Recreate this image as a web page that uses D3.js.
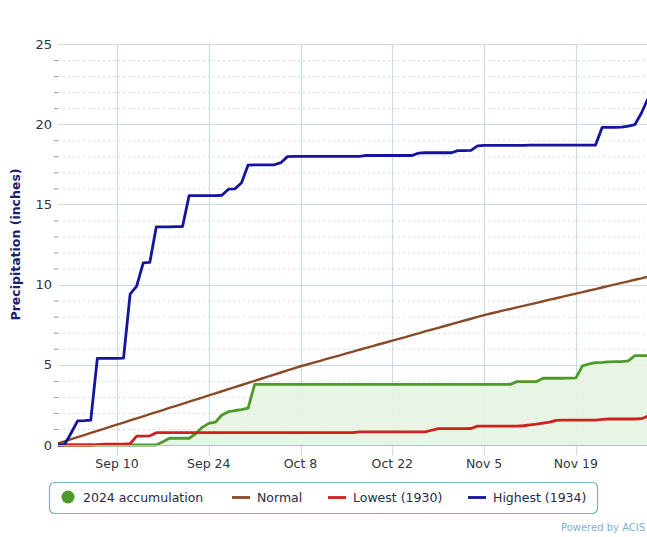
<!DOCTYPE html>
<html>
<head>
<meta charset="utf-8">
<script src="https://cdn.jsdelivr.net/npm/d3@7"></script>
<style>
  html, body { margin: 0; padding: 0; background: #fff; }
  svg { display: block; font-family: "DejaVu Sans", sans-serif; }
</style>
</head>
<body>
<div id="chart"></div>
<script>
// daily cumulative precipitation, Sep 1 .. Nov 30
const startDate = new Date(2024, 8, 1);
const tickDates = [new Date(2024, 8, 10), new Date(2024, 8, 24), new Date(2024, 9, 8),
  new Date(2024, 9, 22), new Date(2024, 10, 5), new Date(2024, 10, 19)];
const tickLabels = ['Sep 10', 'Sep 24', 'Oct 8', 'Oct 22', 'Nov 5', 'Nov 19'];
const yTicks = [0, 5, 10, 15, 20, 25];

const accum2024 = [
  0, 0, 0, 0, 0, 0, 0, 0, 0, 0,
  0, 0, 0, 0, 0, 0, 0.20, 0.42, 0.42, 0.42,
  0.42, 0.70, 1.10, 1.35, 1.42, 1.87, 2.08, 2.15, 2.20, 2.30,
  3.78, 3.78, 3.78, 3.78, 3.78, 3.78, 3.78, 3.78, 3.78, 3.78,
  3.78, 3.78, 3.78, 3.78, 3.78, 3.78, 3.78, 3.78, 3.78, 3.78,
  3.78, 3.78, 3.78, 3.78, 3.78, 3.78, 3.78, 3.78, 3.78, 3.78,
  3.78, 3.78, 3.78, 3.78, 3.78, 3.78, 3.78, 3.78, 3.78, 3.78,
  3.95, 3.95, 3.95, 3.96, 4.16, 4.16, 4.16, 4.16, 4.17, 4.18,
  4.93, 5.05, 5.13, 5.15, 5.18, 5.20, 5.20, 5.25, 5.57, 5.57,
  5.57
];
const normal = [
  0.10, 0.23, 0.36, 0.49, 0.62, 0.75, 0.88, 1.01, 1.14, 1.27,
  1.40, 1.53, 1.66, 1.79, 1.92, 2.05, 2.18, 2.31, 2.44, 2.57,
  2.70, 2.83, 2.96, 3.09, 3.22, 3.35, 3.48, 3.61, 3.74, 3.87,
  4.00, 4.13, 4.26, 4.39, 4.52, 4.65, 4.78, 4.91, 5.02, 5.14,
  5.25, 5.37, 5.48, 5.59, 5.71, 5.82, 5.94, 6.05, 6.16, 6.28,
  6.39, 6.51, 6.62, 6.73, 6.85, 6.96, 7.08, 7.19, 7.30, 7.42,
  7.53, 7.65, 7.76, 7.87, 7.99, 8.10, 8.20, 8.29, 8.39, 8.48,
  8.58, 8.67, 8.77, 8.86, 8.96, 9.06, 9.15, 9.25, 9.34, 9.44,
  9.53, 9.63, 9.72, 9.82, 9.92, 10.01, 10.11, 10.20, 10.30, 10.39,
  10.49
];
const lowest1930 = [
  0, 0, 0, 0, 0, 0, 0.02, 0.05, 0.05, 0.05,
  0.05, 0.08, 0.55, 0.55, 0.57, 0.77, 0.77, 0.77, 0.77, 0.77,
  0.77, 0.77, 0.77, 0.77, 0.77, 0.77, 0.77, 0.77, 0.77, 0.77,
  0.77, 0.77, 0.77, 0.77, 0.77, 0.77, 0.77, 0.77, 0.77, 0.77,
  0.77, 0.77, 0.77, 0.77, 0.77, 0.77, 0.82, 0.82, 0.82, 0.82,
  0.82, 0.82, 0.82, 0.82, 0.82, 0.82, 0.82, 0.92, 1.02, 1.02,
  1.02, 1.02, 1.02, 1.03, 1.18, 1.18, 1.18, 1.18, 1.18, 1.18,
  1.18, 1.20, 1.25, 1.30, 1.37, 1.43, 1.54, 1.55, 1.55, 1.55,
  1.55, 1.55, 1.55, 1.60, 1.62, 1.62, 1.62, 1.62, 1.62, 1.64,
  1.80
];
const highest1934 = [
  0, 0.02, 0.75, 1.50, 1.52, 1.55, 5.40, 5.40, 5.40, 5.40,
  5.42, 9.40, 9.90, 11.35, 11.38, 13.60, 13.60, 13.60, 13.62, 13.62,
  15.55, 15.55, 15.55, 15.55, 15.55, 15.57, 15.95, 15.97, 16.35, 17.45,
  17.47, 17.47, 17.47, 17.47, 17.60, 17.98, 18.00, 18.00, 18.00, 18.00,
  18.00, 18.00, 18.00, 18.00, 18.00, 18.00, 18.00, 18.05, 18.05, 18.05,
  18.05, 18.05, 18.05, 18.05, 18.05, 18.20, 18.22, 18.22, 18.22, 18.22,
  18.22, 18.35, 18.35, 18.37, 18.65, 18.68, 18.68, 18.68, 18.68, 18.68,
  18.68, 18.68, 18.69, 18.69, 18.69, 18.69, 18.70, 18.70, 18.70, 18.70,
  18.70, 18.70, 18.70, 19.80, 19.80, 19.80, 19.82, 19.88, 19.97, 20.70,
  21.60
];

const W = 647, H = 537;
const plot = { left: 58, right: 648, top: 44, bottom: 445 };

const svg = d3.select('#chart').append('svg')
  .attr('width', W).attr('height', H);

const x = d3.scaleTime()
  .domain([startDate, d3.timeDay.offset(startDate, accum2024.length - 1)])
  .range([plot.left, plot.right]);
const y = d3.scaleLinear().domain([0, 25]).range([plot.bottom, plot.top]);

const dayOf = i => d3.timeDay.offset(startDate, i);

// minor dotted grid
const minor = d3.range(1, 25).filter(v => v % 5 !== 0);
svg.append('g').selectAll('line').data(minor).join('line')
  .attr('x1', plot.left).attr('x2', W)
  .attr('y1', d => y(d) + 0.5).attr('y2', d => y(d) + 0.5)
  .attr('stroke', '#d0dde4').attr('stroke-dasharray', '2,3');
svg.append('g').selectAll('line').data(minor).join('line')
  .attr('x1', plot.left - 4).attr('x2', plot.left)
  .attr('y1', d => y(d) + 0.5).attr('y2', d => y(d) + 0.5)
  .attr('stroke', '#999');

// major grid
svg.append('g').selectAll('line').data(yTicks.slice(1)).join('line')
  .attr('x1', plot.left).attr('x2', W)
  .attr('y1', d => Math.round(y(d)) + 0.5).attr('y2', d => Math.round(y(d)) + 0.5)
  .attr('stroke', '#c9dbe3').attr('stroke-width', 1.2);

// vertical grid
svg.append('g').selectAll('line').data(tickDates).join('line')
  .attr('x1', d => Math.round(x(d)) + 0.5).attr('x2', d => Math.round(x(d)) + 0.5)
  .attr('y1', plot.top).attr('y2', plot.bottom + 10)
  .attr('stroke', '#c9dbe3').attr('stroke-width', 1.2);

// y labels
svg.append('g').selectAll('text').data(yTicks).join('text')
  .attr('x', plot.left - 6).attr('y', d => y(d) + 4.5)
  .attr('text-anchor', 'end').attr('font-size', 13).attr('fill', '#333340')
  .text(d => d);

// x labels
svg.append('g').selectAll('text').data(tickDates).join('text')
  .attr('x', d => x(d)).attr('y', plot.bottom + 23)
  .attr('text-anchor', 'middle').attr('font-size', 12.5).attr('fill', '#333348')
  .text((d, i) => tickLabels[i]);

// y title
svg.append('text')
  .attr('transform', `translate(20,${(plot.top + plot.bottom) / 2}) rotate(-90)`)
  .attr('text-anchor', 'middle').attr('font-size', 12.5).attr('font-weight', 'bold')
  .attr('fill', '#1c1f6e')
  .text('Precipitation (inches)');

svg.append('clipPath').attr('id', 'clip').append('rect')
  .attr('x', plot.left - 2).attr('y', plot.top - 5)
  .attr('width', W - plot.left + 2).attr('height', plot.bottom - plot.top + 8);
const g = svg.append('g').attr('clip-path', 'url(#clip)');

// 2024 area
g.append('path')
  .datum(accum2024)
  .attr('fill', '#e7f4e1').attr('fill-opacity', 0.9)
  .attr('d', d3.area().x((d, i) => x(dayOf(i))).y0(y(0)).y1(d => y(d)));

// axis baseline
svg.append('line')
  .attr('x1', plot.left).attr('x2', W)
  .attr('y1', plot.bottom + 0.5).attr('y2', plot.bottom + 0.5)
  .attr('stroke', '#9cc6d4').attr('stroke-width', 1.2);

const line = d3.line().x((d, i) => x(dayOf(i))).y(d => y(d));
const series = [
  { data: accum2024, color: '#4c9a2a', width: 2.8 },
  { data: normal, color: '#8b4a26', width: 2.4 },
  { data: lowest1930, color: '#d01f1f', width: 2.8 },
  { data: highest1934, color: '#1414a0', width: 2.8 }
];
series.forEach(s => {
  g.append('path').datum(s.data)
    .attr('fill', 'none').attr('stroke', s.color)
    .attr('stroke-width', s.width).attr('stroke-linejoin', 'round')
    .attr('d', line);
});

// legend
const legend = svg.append('g');
legend.append('rect')
  .attr('x', 49.5).attr('y', 482.5).attr('width', 548).attr('height', 31)
  .attr('rx', 5).attr('fill', '#fff').attr('stroke', '#74b6c4').attr('stroke-width', 1.2);
const legendItems = [
  { label: '2024 accumulation', color: '#4c9a2a', x: 68, dot: true },
  { label: 'Normal', color: '#8b4a26', x: 232 },
  { label: 'Lowest (1930)', color: '#d01f1f', x: 328 },
  { label: 'Highest (1934)', color: '#1414a0', x: 468 }
];
legendItems.forEach(it => {
  if (it.dot) {
    legend.append('circle').attr('cx', it.x).attr('cy', 497).attr('r', 6.5).attr('fill', it.color);
    legend.append('text').attr('x', it.x + 15).attr('y', 502)
      .attr('font-size', 12.5).attr('fill', '#2a2a44').text(it.label);
  } else {
    legend.append('line').attr('x1', it.x).attr('x2', it.x + 18)
      .attr('y1', 497.5).attr('y2', 497.5).attr('stroke', it.color).attr('stroke-width', 2.8);
    legend.append('text').attr('x', it.x + 25).attr('y', 502)
      .attr('font-size', 12.5).attr('fill', '#2a2a44').text(it.label);
  }
});

svg.append('text').attr('x', 561).attr('y', 531)
  .attr('font-size', 10).attr('fill', '#7fb2d2').text('Powered by ACIS');
</script>
</body>
</html>
